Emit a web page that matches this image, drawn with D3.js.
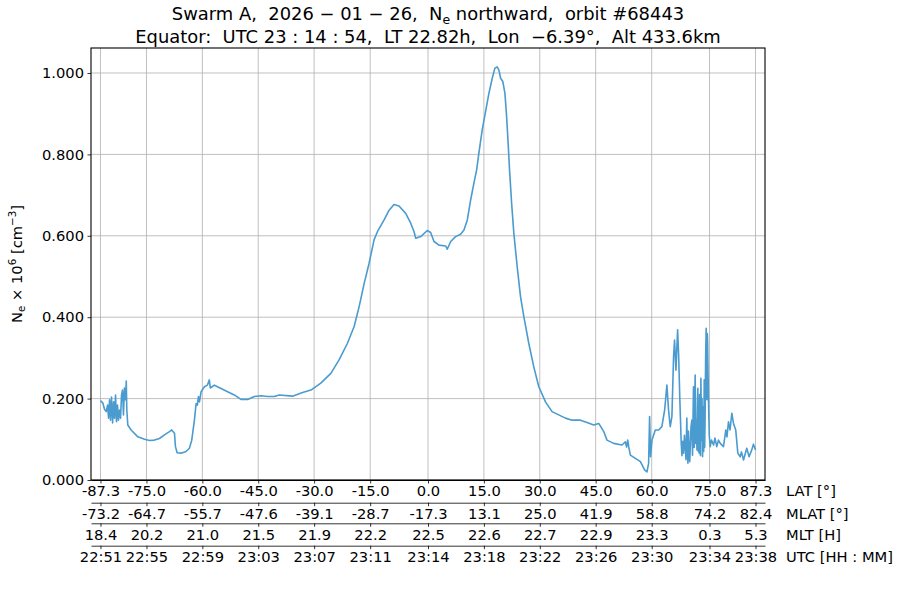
<!DOCTYPE html>
<html><head><meta charset="utf-8">
<script src="https://cdn.jsdelivr.net/npm/d3@7"></script>
<style>
body{margin:0;background:#fff;}
svg text{font-family:"DejaVu Sans",sans-serif;white-space:pre;}
</style></head>
<body><svg id="c" width="900" height="600"></svg>
<script>
// ---- data: minutes relative to equator crossing (23:14:54 UTC), Ne (x10^6 cm^-3)
const minutes = [-23.50,-23.33,-23.21,-23.09,-22.99,-22.92,-22.85,-22.78,-22.71,-22.63,-22.56,-22.49,-22.42,-22.35,-22.28,-22.21,-22.13,-22.06,-21.99,-21.92,-21.85,-21.78,-21.70,-21.65,-21.61,-21.54,-21.30,-20.82,-20.34,-19.98,-19.63,-19.27,-18.91,-18.55,-18.39,-18.19,-18.12,-18.00,-17.71,-17.36,-17.12,-16.95,-16.76,-16.64,-16.55,-16.47,-16.40,-16.28,-16.04,-15.83,-15.69,-15.62,-15.33,-14.85,-14.38,-13.90,-13.42,-12.94,-12.46,-11.98,-11.51,-11.03,-10.67,-9.72,-9.00,-8.40,-7.69,-6.97,-6.38,-5.78,-5.30,-4.94,-4.58,-4.23,-3.87,-3.63,-3.15,-2.79,-2.44,-2.08,-1.60,-1.24,-1.00,-0.88,-0.52,-0.05,0.19,0.43,0.79,1.27,1.38,1.63,1.98,2.34,2.58,2.82,3.06,3.29,3.49,3.65,3.89,4.13,4.37,4.61,4.80,4.96,5.09,5.21,5.37,5.52,5.64,5.75,5.85,6.00,6.16,6.40,6.64,6.88,7.23,7.59,7.95,8.43,8.90,9.38,9.86,10.34,10.94,11.41,11.89,12.25,12.61,12.84,13.32,13.92,14.16,14.25,14.33,14.40,14.52,14.88,15.24,15.54,15.71,15.83,15.90,15.97,16.07,16.31,16.55,16.78,16.98,17.14,17.26,17.38,17.50,17.62,17.69,17.79,17.91,17.98,18.07,
18.17,18.22,18.28,18.34,18.40,18.46,18.51,18.57,18.61,18.65,18.69,18.73,18.78,18.82,18.87,18.93,18.98,19.02,19.05,19.10,19.14,19.17,19.21,19.25,19.30,19.33,19.36,19.40,19.43,19.46,19.49,19.52,19.55,19.58,19.63,19.66,19.70,19.74,19.78,19.82,19.85,19.88,19.92,19.96,20.01,20.04,20.06,20.10,20.13,20.18,20.25,
20.34,20.49,20.59,20.72,20.84,20.97,21.20,21.37,21.45,21.56,21.67,21.80,21.92,22.08,22.23,22.40,22.49,22.64,22.87,23.04,23.23,23.35,23.50];
const ne = [0.195,0.189,0.174,0.168,0.184,0.152,0.197,0.147,0.204,0.140,0.192,0.152,0.209,0.143,0.184,0.147,0.172,0.152,0.209,0.221,0.160,0.226,0.197,0.243,0.172,0.135,0.123,0.106,0.100,0.097,0.098,0.102,0.111,0.119,0.123,0.115,0.082,0.067,0.066,0.070,0.078,0.098,0.147,0.188,0.184,0.205,0.192,0.217,0.229,0.233,0.246,0.226,0.233,0.225,0.217,0.209,0.198,0.198,0.205,0.207,0.205,0.205,0.209,0.206,0.215,0.221,0.238,0.262,0.295,0.336,0.377,0.426,0.483,0.532,0.590,0.610,0.639,0.663,0.677,0.673,0.655,0.631,0.610,0.594,0.598,0.613,0.608,0.586,0.577,0.575,0.567,0.586,0.598,0.604,0.614,0.639,0.688,0.729,0.762,0.803,0.860,0.905,0.950,0.987,1.012,1.015,1.007,0.987,0.979,0.950,0.893,0.827,0.762,0.680,0.606,0.524,0.450,0.401,0.336,0.278,0.229,0.192,0.168,0.160,0.152,0.147,0.147,0.141,0.135,0.139,0.119,0.098,0.090,0.086,0.094,0.081,0.098,0.082,0.061,0.053,0.045,0.025,0.020,0.041,0.156,0.057,0.098,0.123,0.123,0.131,0.172,0.233,0.172,0.131,0.156,0.303,0.344,0.270,0.369,0.311,0.197,
0.090,0.060,0.095,0.066,0.110,0.082,0.050,0.152,0.070,0.041,0.120,0.074,0.045,0.082,0.130,0.147,0.061,0.160,0.229,0.080,0.200,0.258,0.090,0.147,0.074,0.180,0.225,0.070,0.190,0.066,0.210,0.147,0.060,0.250,0.098,0.200,0.057,0.180,0.070,0.246,0.080,0.147,0.300,0.373,0.197,0.360,0.344,0.250,0.188,0.110,0.082,
0.098,0.086,0.103,0.082,0.098,0.090,0.082,0.123,0.106,0.143,0.123,0.164,0.139,0.123,0.066,0.057,0.069,0.049,0.078,0.057,0.074,0.088,0.074];

// ---- tick data
const tickMinutes = [-23.50,-20.20,-16.19,-12.18,-8.17,-4.15,0.00,4.01,8.02,12.03,16.05,20.20,23.50];
const latLabels  = ["-87.3","-75.0","-60.0","-45.0","-30.0","-15.0","0.0","15.0","30.0","45.0","60.0","75.0","87.3"];
const mlatLabels = ["-73.2","-64.7","-55.7","-47.6","-39.1","-28.7","-17.3","13.1","25.0","41.9","58.8","74.2","82.4"];
const mltLabels  = ["18.4","20.2","21.0","21.5","21.9","22.2","22.5","22.6","22.7","22.9","23.3","0.3","5.3"];
const utcLabels  = ["22:51","22:55","22:59","23:03","23:07","23:11","23:14","23:18","23:22","23:26","23:30","23:34","23:38"];
const rowNames   = ["LAT [°]","MLAT [°]","MLT [H]","UTC [HH : MM]"];
const yTicks     = [0,0.2,0.4,0.6,0.8,1.0];

const svg = d3.select("#c");
const L=91, R=765, T=48, B=480;
const x = d3.scaleLinear().domain([-24.18,24.18]).range([L,R]);
const y = d3.scaleLinear().domain([0,1.0614]).range([B,T]);
const FS = 14.7;

// grid
const g = svg.append("g");
g.selectAll(".gx").data(tickMinutes).enter().append("line")
  .attr("x1",d=>x(d)).attr("x2",d=>x(d)).attr("y1",T).attr("y2",B)
  .attr("stroke","#b0b0b0").attr("stroke-width",0.8);
g.selectAll(".gy").data(yTicks).enter().append("line")
  .attr("x1",L).attr("x2",R).attr("y1",d=>y(d)).attr("y2",d=>y(d))
  .attr("stroke","#b0b0b0").attr("stroke-width",0.8);

// line
svg.append("clipPath").attr("id","clip").append("rect").attr("x",L).attr("y",T).attr("width",R-L).attr("height",B-T);
const pts = minutes.map((m,i)=>[m,ne[i]]);
svg.append("path").datum(pts).attr("clip-path","url(#clip)")
  .attr("fill","none").attr("stroke","#4a9bcf").attr("stroke-width",1.6).attr("stroke-linejoin","round")
  .attr("d", d3.line().x(d=>x(d[0])).y(d=>y(d[1])));

// frame
svg.append("rect").attr("x",L).attr("y",T).attr("width",R-L).attr("height",B-T)
  .attr("fill","none").attr("stroke","#000").attr("stroke-width",1.1);

// y axis
const ya = svg.append("g").attr("transform",`translate(${L},0)`)
  .call(d3.axisLeft(y).tickValues(yTicks).tickFormat(d3.format(".3f")).tickSize(3.5).tickPadding(3.5).tickSizeOuter(0));
ya.select(".domain").remove();
ya.selectAll("text").attr("font-size",FS).attr("fill","#000").attr("font-family","DejaVu Sans");
ya.selectAll("line").attr("stroke","#000").attr("stroke-width",0.8);

// bottom rows
const rowY = [B, 502.7, 523.3, 545.7];
const rowLabels = [latLabels, mlatLabels, mltLabels, utcLabels];
rowY.forEach((ry,k)=>{
  const ax = svg.append("g").attr("transform",`translate(0,${ry})`)
    .call(d3.axisBottom(x).tickValues(tickMinutes).tickFormat((d,i)=>rowLabels[k][i]).tickSize(3.5).tickPadding(2.5).tickSizeOuter(0));
  ax.select(".domain").attr("stroke","#000").attr("stroke-width",k===0?1.1:0.8);
  ax.selectAll("text").attr("font-size",FS).attr("fill","#000").attr("font-family","DejaVu Sans");
  ax.selectAll("line").attr("stroke","#000").attr("stroke-width",0.8);
  svg.append("text").attr("x",786).attr("y",ry+6+0.71*FS).attr("font-size",FS).text(rowNames[k]);
});

// y label
const yl = svg.append("text").attr("transform",`translate(22,${(T+B)/2}) rotate(-90)`)
  .attr("text-anchor","middle").attr("font-size",FS);
yl.append("tspan").text("N");
yl.append("tspan").attr("font-size",FS*0.7).attr("dy",3).text("e");
yl.append("tspan").attr("dy",-3).text(" × 10");
yl.append("tspan").attr("font-size",FS*0.7).attr("dy",-6).text("6");
yl.append("tspan").attr("dy",6).text(" [cm");
yl.append("tspan").attr("font-size",FS*0.7).attr("dy",-6).text("−3");
yl.append("tspan").attr("dy",6).text("]");

// title
const TF = 17.9;
const t1 = svg.append("text").attr("x",428).attr("y",20).attr("text-anchor","middle").attr("font-size",TF);
t1.append("tspan").text("Swarm A,  2026 − 01 − 26,  N");
t1.append("tspan").attr("font-size",TF*0.7).attr("dy",3.5).text("e");
t1.append("tspan").attr("dy",-3.5).text(" northward,  orbit #68443");
svg.append("text").attr("x",428).attr("y",43).attr("text-anchor","middle").attr("font-size",TF)
  .text("Equator:  UTC 23 : 14 : 54,  LT 22.82h,  Lon  −6.39°,  Alt 433.6km");
</script></body></html>
